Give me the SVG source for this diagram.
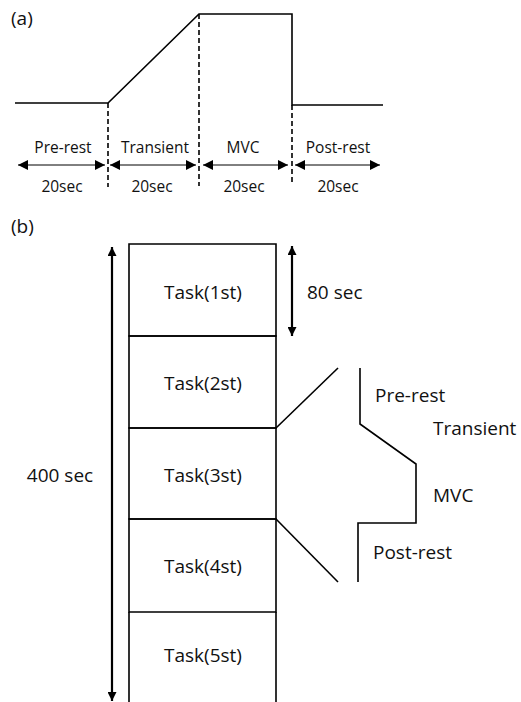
<svg xmlns="http://www.w3.org/2000/svg" width="521" height="702" viewBox="0 0 521 702">
<style>
text{font-family:"Open Sans","Liberation Sans",sans-serif;fill:#111}
.a{font-size:15.5px;text-anchor:middle}
.b{font-size:19px}
.m{text-anchor:middle}
.ln{stroke:#000;stroke-width:1.6;fill:none}
.ds{stroke:#000;stroke-width:1.6;stroke-dasharray:5,3;fill:none}
.ar{stroke:#000;stroke-width:1;fill:none;marker-start:url(#hs);marker-end:url(#he)}
.big{stroke:#000;stroke-width:2.2;fill:none;marker-start:url(#bs);marker-end:url(#be)}
</style>
<defs>
<marker id="he" viewBox="0 0 10 10" refX="10" refY="5" markerWidth="10" markerHeight="10" markerUnits="userSpaceOnUse" orient="auto"><path d="M0,0L10,5L0,10z" fill="#000"/></marker>
<marker id="hs" viewBox="0 0 10 10" refX="0" refY="5" markerWidth="10" markerHeight="10" markerUnits="userSpaceOnUse" orient="auto"><path d="M10,0L0,5L10,10z" fill="#000"/></marker>
<marker id="be" viewBox="0 0 10 10" refX="10" refY="5" markerWidth="11" markerHeight="9" markerUnits="userSpaceOnUse" orient="auto"><path d="M0,0L10,5L0,10z" fill="#000"/></marker>
<marker id="bs" viewBox="0 0 10 10" refX="0" refY="5" markerWidth="11" markerHeight="9" markerUnits="userSpaceOnUse" orient="auto"><path d="M10,0L0,5L10,10z" fill="#000"/></marker>
</defs>
<g id="panel-a">
<text x="11" y="25" style="font-size:19px">(a)</text>
<polyline class="ln" points="15,103 108,103 199,14 292,14 292,105 383,105"/>
<line class="ds" x1="108" y1="103" x2="108" y2="187"/>
<line class="ds" x1="199" y1="14" x2="199" y2="186"/>
<line class="ds" x1="292" y1="105" x2="292" y2="183"/>
<line class="ar" x1="18" y1="165" x2="105" y2="165"/>
<line class="ar" x1="110" y1="165" x2="196" y2="165"/>
<line class="ar" x1="203" y1="165" x2="288" y2="165"/>
<line class="ar" x1="295" y1="165" x2="380" y2="165"/>
<text class="a" x="63" y="153">Pre-rest</text>
<text class="a" x="155" y="153">Transient</text>
<text class="a" x="243" y="153">MVC</text>
<text class="a" x="338" y="153">Post-rest</text>
<text class="a" x="62" y="192">20sec</text>
<text class="a" x="152" y="192">20sec</text>
<text class="a" x="244" y="192">20sec</text>
<text class="a" x="338" y="192">20sec</text>
</g>
<g id="panel-b">
<text x="11" y="233" style="font-size:19px">(b)</text>
<g id="task1"><path class="ln" d="M129,244H276V336H129Z"/><text class="b m" x="203" y="299">Task(1st)</text></g>
<g id="task2"><path class="ln" d="M129,336H276V428H129Z"/><text class="b m" x="203" y="390">Task(2st)</text></g>
<g id="task3"><path class="ln" d="M129,428H276V519H129Z"/><text class="b m" x="203" y="482">Task(3st)</text></g>
<g id="task4"><path class="ln" d="M129,519H276V612H129Z"/><text class="b m" x="203" y="573">Task(4st)</text></g>
<g id="task5"><path class="ln" d="M129,612V703M276,612V703"/><text class="b m" x="203" y="662">Task(5st)</text></g>
<g id="connectors">
<line class="big" x1="112" y1="247" x2="112" y2="701"/>
<line class="big" x1="292" y1="246" x2="292" y2="336"/>
<line class="ln" x1="276" y1="428" x2="338" y2="368"/>
<line class="ln" x1="276" y1="519" x2="338" y2="582"/>
<polyline class="ln" points="360,368 360,424 416,464 416,523 358,523 358,582"/>
</g>
<text class="b m" x="60" y="482">400 sec</text>
<text class="b" x="307" y="299">80 sec</text>
<text class="b" x="375" y="402">Pre-rest</text>
<text class="b" x="433" y="435">Transient</text>
<text class="b" x="433" y="502">MVC</text>
<text class="b" x="373" y="559">Post-rest</text>
</g>
</svg>
